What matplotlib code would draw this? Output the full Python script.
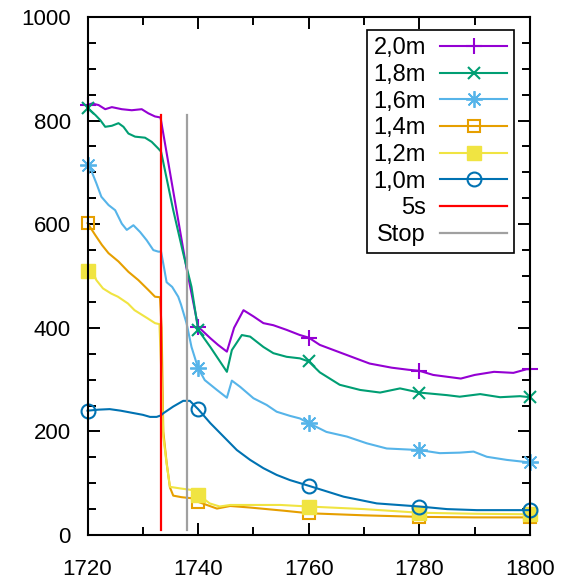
import matplotlib
matplotlib.use("Agg")
import matplotlib.pyplot as plt
from matplotlib.ticker import MultipleLocator

plt.rcParams['font.family'] = ['Liberation Sans', 'DejaVu Sans']
plt.rcParams['font.size'] = 16

marker_x = [1720, 1740, 1760, 1780, 1800]

x20 = [1720, 1720.8, 1722, 1723.2, 1724.4, 1726.2, 1728, 1729.8, 1731, 1732.2, 1733.2,
       1737.9, 1740, 1742.2, 1743.6, 1745.2, 1746.5, 1748.2, 1750, 1751.8, 1753.6, 1756,
       1758.4, 1760, 1762, 1765, 1771, 1775, 1778, 1780, 1782.5, 1787.5, 1790, 1793.5,
       1797, 1799.4, 1800]
y20 = [830, 833, 830, 822, 826, 822, 820, 822, 814, 808, 806,
       515, 402, 380, 367, 354, 400, 434, 422, 409, 405, 396,
       386, 381, 367, 355, 331, 323, 319, 317, 309, 302, 309, 315,
       313, 320, 320]

x18 = [1720, 1721.4, 1722.3, 1723.2, 1724.4, 1725.6, 1726.5, 1727.4, 1728.6, 1730.4,
       1731.6, 1732.8, 1733.3, 1735.5, 1737.3, 1737.9, 1738.8, 1740, 1742.2, 1745.2,
       1746.1, 1747.9, 1749.4, 1751.8, 1753.6, 1756, 1758.4, 1760, 1762, 1765.6, 1769.3,
       1772.9, 1776.5, 1780, 1785, 1787.3, 1791, 1794.6, 1798.2, 1800]
y18 = [824, 811, 801, 788, 790, 795, 788, 775, 769, 767,
       759, 746, 740, 627, 544, 518, 479, 396, 363, 315,
       357, 386, 383, 363, 351, 344, 341, 335, 314, 290, 280,
       275, 283, 275, 270, 267, 272, 266, 268, 266]

x16 = [1720, 1720.4, 1721.6, 1722.5, 1723.8, 1725, 1726.2, 1727.1, 1728.3, 1729.5,
       1730.7, 1731.9, 1732.8, 1733.3, 1733.7, 1734.3, 1735.3, 1736.4, 1736.9, 1737.9,
       1738.8, 1740, 1741.2, 1743.4, 1745.2, 1746.1, 1747.6, 1750, 1752.4, 1754.2,
       1756.6, 1758.4, 1760, 1763.2, 1766.9, 1770.5, 1774.1, 1780, 1783.7, 1787.3,
       1789.8, 1792.2, 1795.8, 1800]
y16 = [714, 711, 679, 653, 637, 627, 601, 589, 598, 585,
       569, 550, 547, 547, 524, 488, 479, 460, 445, 409,
       363, 322, 299, 280, 265, 298, 286, 264, 251, 238,
       230, 225, 216, 199, 190, 177, 167, 164, 158, 159,
       161, 151, 145, 140]

x14 = [1720, 1721.4, 1722.6, 1723.8, 1725.6, 1727.4, 1729.2, 1731, 1732.2, 1733.1,
       1733.4, 1733.7, 1734.3, 1734.9, 1735.5, 1737, 1738.8, 1740, 1743.4, 1745.8,
       1749.4, 1755.4, 1760, 1770, 1780, 1790, 1800]
y14 = [602, 579, 560, 544, 528, 508, 492, 473, 460, 459,
       400, 200, 140, 92, 76, 73, 71, 64, 51, 56,
       53, 47, 42, 38, 35, 34, 34]

x12 = [1720, 1720.8, 1721.6, 1722.8, 1724.3, 1725.5, 1727.3, 1728.5, 1730.9, 1732.2,
       1733.0, 1733.4, 1733.7, 1734.3, 1734.9, 1736.7, 1738.8, 1740, 1742.1, 1743.9,
       1745.8, 1748.8, 1754.9, 1760, 1770, 1780, 1790, 1800]
y12 = [510, 512, 492, 476, 466, 460, 447, 434, 418, 409,
       407, 300, 190, 138, 93, 90, 87, 78, 61, 55,
       58, 58, 58, 55, 50, 43, 41, 40]

x10 = [1720, 1722, 1724, 1726, 1728, 1730, 1731.3, 1732.5, 1733.3, 1733.7, 1735.5,
       1737.3, 1738.5, 1740, 1742.2, 1744.6, 1747, 1749.4, 1751.8, 1754.2, 1756.6,
       1760, 1766.3, 1772.3, 1780, 1785, 1790.4, 1800]
y10 = [240, 242, 243, 240, 236, 232, 228, 228, 231, 235, 248,
       259, 259, 243, 216, 190, 164, 145, 129, 116, 106,
       95, 74, 61, 55, 50, 48, 48]

t_5s = 1733.2
t_stop = 1738.0
vline_range = [10, 810]

series = [
    ("2,0m", x20, y20, "#9400D3", dict(marker="+", markersize=11, markeredgewidth=1.5)),
    ("1,8m", x18, y18, "#009E73", dict(marker="x", markersize=9, markeredgewidth=1.5)),
    ("1,6m", x16, y16, "#56B4E9", dict(marker=(8, 2, 0), markersize=12, markeredgewidth=1.3)),
    ("1,4m", x14, y14, "#E69F00", dict(marker="s", markersize=9, markeredgewidth=1.5,
                                       markerfacecolor="none")),
    ("1,2m", x12, y12, "#F0E442", dict(marker="s", markersize=10, markeredgewidth=1.0)),
    ("1,0m", x10, y10, "#0072B2", dict(marker="o", markersize=10, markeredgewidth=1.5,
                                       markerfacecolor="none")),
]

fig = plt.figure(figsize=(5.75, 5.84), dpi=100)
ax = fig.add_axes([0.1522, 0.0839, 0.9217 - 0.1522, 0.9709 - 0.0839])

for label, xs, ys, color, mk in series:
    idx = [i for i, v in enumerate(xs) if v in marker_x]
    ax.plot(xs, ys, color=color, lw=1.5, label=label, markevery=idx, clip_on=False, **mk)

ax.plot([t_5s, t_5s], vline_range, color="#FF0000", lw=1.6, label="5s")
ax.plot([t_stop, t_stop], vline_range, color="#A0A0A0", lw=1.6, label="Stop")

ax.set_xlim(1720, 1800)
ax.set_ylim(0, 1000)
ax.xaxis.set_major_locator(MultipleLocator(20))
ax.xaxis.set_minor_locator(MultipleLocator(10))
ax.yaxis.set_major_locator(MultipleLocator(200))
ax.yaxis.set_minor_locator(MultipleLocator(50))
ax.tick_params(which="both", direction="in", top=True, right=True, width=1.4, colors="black")
ax.tick_params(which="major", length=8.6)
ax.tick_params(which="minor", length=5.5)
ax.tick_params(axis="y", which="major", pad=12)
ax.tick_params(axis="x", which="major", pad=17)
for s in ax.spines.values():
    s.set_linewidth(1.5)

leg = ax.legend(loc="upper right", bbox_to_anchor=(0.964, 0.974), borderaxespad=0,
                markerfirst=False, handlelength=2.85, handletextpad=0.6,
                labelspacing=0.2, borderpad=0.28, fancybox=False, framealpha=1,
                edgecolor="black", fontsize=17)
leg.get_frame().set_linewidth(1.2)

fig.savefig("out.png", dpi=100)
